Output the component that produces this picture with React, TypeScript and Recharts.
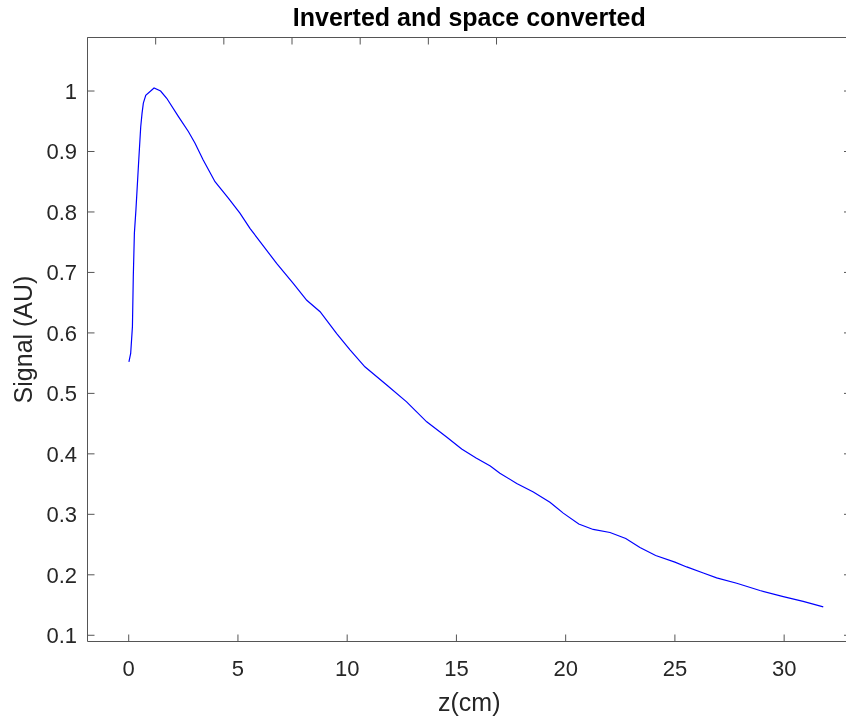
import { Label, Line, LineChart, XAxis, YAxis } from "recharts";

const zValues = [
  0.01, 0.09, 0.17, 0.21, 0.26, 0.33, 0.46, 0.55, 0.61, 0.67, 0.78, 1.16, 1.46, 1.74, 2.27, 2.73,
  3.03, 3.41, 3.95, 4.56, 5.09, 5.55, 6.01, 6.77, 7.53, 8.15, 8.76, 9.52, 10.13, 10.81, 11.81,
  12.72, 13.64, 14.55, 15.24, 15.9, 16.55, 16.99, 17.76, 18.52, 19.28, 19.89, 20.6, 21.26, 22.03,
  22.75, 23.4, 24.12, 25.0, 25.54, 26.3, 26.91, 27.83, 28.89, 29.96, 30.87, 31.79,
];
const signalValues = [
  0.552, 0.566, 0.61, 0.693, 0.765, 0.803, 0.886, 0.941, 0.963, 0.98, 0.993, 1.005, 1.0, 0.988,
  0.958, 0.933, 0.914, 0.886, 0.85, 0.823, 0.798, 0.773, 0.751, 0.715, 0.682, 0.654, 0.635, 0.599,
  0.572, 0.544, 0.514, 0.486, 0.453, 0.428, 0.408, 0.393, 0.38, 0.368, 0.351, 0.337, 0.32, 0.302,
  0.284, 0.275, 0.27, 0.26, 0.245, 0.232, 0.221, 0.213, 0.203, 0.195, 0.186, 0.174, 0.164, 0.156,
  0.147,
];
const xTicks = [0, 5, 10, 15, 20, 25, 30];
const yTicks = [0.1, 0.2, 0.3, 0.4, 0.5, 0.6, 0.7, 0.8, 0.9, 1];

const data = zValues.map((z, i) => ({ z, signal: signalValues[i] }));

const axisColor = "#555";
const textColor = "#262626";
const xDomain = [-1.886, 33.06];
const yDomain = [0.0897, 1.0885];

export default function App() {
  return (
    <div
      style={{
        position: "fixed",
        left: 0,
        top: 0,
        width: 846,
        height: 719,
        fontFamily: "'Liberation Sans', Arial, sans-serif",
      }}
    >
      {/* the axes box runs a few px past the right edge of the picture, as in the reference */}
      <LineChart width={846} height={719} data={data} margin={{ top: 0, right: -24, bottom: 0, left: 0 }}>
        <XAxis
          dataKey="z"
          type="number"
          domain={xDomain}
          ticks={xTicks}
          allowDataOverflow
          height={77.5}
          tickSize={-7}
          tickMargin={26}
          stroke={axisColor}
          tick={{ fill: textColor, fontSize: 22 }}
        >
          <Label value="z(cm)" position="insideBottom" offset={8} fill={textColor} fontSize={25} />
        </XAxis>
        <XAxis
          xAxisId="top"
          orientation="top"
          type="number"
          domain={xDomain}
          ticks={xTicks}
          allowDataOverflow
          height={37.5}
          tickSize={-7}
          tickFormatter={() => ""}
          stroke={axisColor}
        >
          <Label
            value="Inverted and space converted"
            position="insideTop"
            offset={8}
            fill="#000"
            fontSize={25}
            fontWeight="bold"
          />
        </XAxis>
        <YAxis
          type="number"
          domain={yDomain}
          ticks={yTicks}
          allowDataOverflow
          width={87.5}
          tickSize={-7}
          tickMargin={17.5}
          stroke={axisColor}
          tick={{ fill: textColor, fontSize: 22 }}
        >
          <Label value="Signal (AU)" position="center" angle={-90} dx={-21} fill={textColor} fontSize={25} />
        </YAxis>
        <YAxis
          yAxisId="right"
          orientation="right"
          type="number"
          domain={yDomain}
          ticks={yTicks}
          allowDataOverflow
          width={19}
          tickSize={-7}
          tickFormatter={() => ""}
          stroke={axisColor}
        />
        <Line
          dataKey="signal"
          type="linear"
          stroke="#0000ff"
          strokeWidth={1.2}
          dot={false}
          isAnimationActive={false}
        />
      </LineChart>
    </div>
  );
}
